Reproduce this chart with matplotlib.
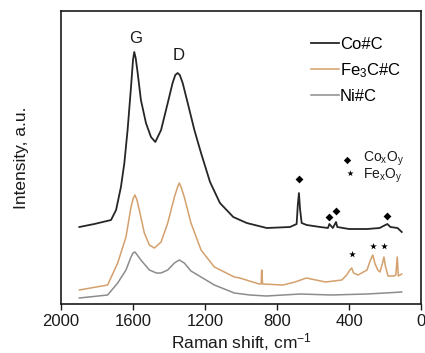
import matplotlib
matplotlib.use("Agg")
import matplotlib.pyplot as plt

plt.rcParams['font.family'] = ['Liberation Sans', 'DejaVu Sans']
plt.rcParams['mathtext.default'] = 'regular'

# Raman shift (cm-1) and intensity (a.u.)
co_x = [1898, 1815, 1722, 1694, 1667, 1648, 1630, 1611, 1600, 1593, 1585, 1574, 1556, 1528, 1500,
        1476, 1444, 1407, 1380, 1365, 1352, 1340, 1324, 1296, 1259, 1222, 1172, 1117, 1043,
        968, 857, 728, 691, 684, 678, 672, 663, 635, 560, 517, 509, 490, 472, 465, 400, 300, 230,
        187, 170, 130, 107]
co_y = [77, 80, 84, 94, 117, 141, 174, 217, 244, 252, 246, 231, 204, 181, 167,
        162, 174, 201, 221, 229, 231, 229, 221, 201, 174, 151, 122, 101, 87,
        81, 76, 77, 80, 100, 111, 95, 81, 79, 77, 76, 80, 76, 82, 77, 75, 75, 76,
        80, 77, 76, 72]

fe_x = [1898, 1741, 1685, 1639, 1611, 1598, 1589, 1578, 1565, 1537, 1509, 1481, 1444, 1407, 1370,
        1352, 1343, 1333, 1315, 1278, 1222, 1148, 1037, 1007, 898, 888, 885, 880, 767, 700, 637,
        530, 440, 413, 395, 385, 375, 350, 300, 285, 268, 255, 240, 228, 215, 206, 198, 183, 150,
        140, 132, 126, 107]
fe_y = [14, 19, 41, 67, 97, 106, 109, 104, 94, 71, 59, 56, 62, 81, 107,
        117, 121, 117, 107, 81, 54, 37, 27, 26, 20, 20, 34, 20, 19, 22, 26,
        22, 24, 29, 34, 36, 31, 29, 34, 42, 49, 40, 34, 32, 40, 47, 38, 28, 28,
        29, 47, 28, 30]

ni_x = [1898, 1741, 1685, 1639, 1611, 1600, 1589, 1556, 1509, 1470, 1444, 1407, 1370, 1343,
        1315, 1278, 1222, 1148, 1037, 950, 859, 670, 500, 300, 200, 107]
ni_y = [6, 9, 21, 34, 47, 51, 52, 44, 34, 31, 31, 34, 41, 44,
        41, 33, 27, 19, 11, 9, 8, 10, 9, 10, 11, 12]

labels = ['Co#C', 'Fe$_3$C#C', 'Ni#C']
colors = ['#262626', '#d4a06c', '#8c8c8c']

dia_x = [678, 509, 472, 187]
dia_y = [125, 87, 93, 88]
star_x = [382, 268, 207]
star_y = [50, 58, 58]

fig = plt.figure(figsize=(4.25, 3.53), dpi=100)
ax = fig.add_axes([0.1435, 0.1388, 0.8471, 0.83])

for xs, ys, c, lab, lw in zip([co_x, fe_x, ni_x], [co_y, fe_y, ni_y], colors, labels, [1.3, 1.1, 1.1]):
    ax.plot(xs, ys, color=c, lw=lw, label=lab)

ax.scatter(dia_x, dia_y, marker='D', s=16, color='black', zorder=5, linewidths=0)
ax.scatter(star_x, star_y, marker='*', s=26, color='black', zorder=5, linewidths=0)

ax.text(1585, 266, 'G', ha='center', va='center', fontsize=12, color='#1a1a1a')
ax.text(1344, 249, 'D', ha='center', va='center', fontsize=12, color='#1a1a1a')

ax.scatter([411], [144], marker='D', s=14, color='black', zorder=5, linewidths=0)
ax.scatter([394], [131], marker='*', s=22, color='black', zorder=5, linewidths=0)
ax.text(324, 145, 'Co$_x$O$_y$', fontsize=10, va='center', ha='left', color='#1a1a1a')
ax.text(324, 128, 'Fe$_x$O$_y$', fontsize=10, va='center', ha='left', color='#1a1a1a')

ax.set_xlim(2000, 0)
ax.set_ylim(0, 293)
ax.set_xticks([2000, 1600, 1200, 800, 400, 0])
ax.set_yticks([])
ax.tick_params(axis='x', direction='out', length=4, width=1, labelsize=12, colors='#1a1a1a')
for s in ax.spines.values():
    s.set_linewidth(1.2)
    s.set_color('#1a1a1a')

ax.set_xlabel('Raman shift, cm$^{-1}$', fontsize=12.5, labelpad=1, color='#1a1a1a')
ax.set_ylabel('Intensity, a.u.', fontsize=12.5, labelpad=23, color='#1a1a1a')

leg = ax.legend(loc='upper right', bbox_to_anchor=(0.968, 0.94), frameon=False, fontsize=12,
                handlelength=1.7, handletextpad=0.05, labelspacing=0.55, borderpad=0)

fig.savefig('out.png', dpi=100)
